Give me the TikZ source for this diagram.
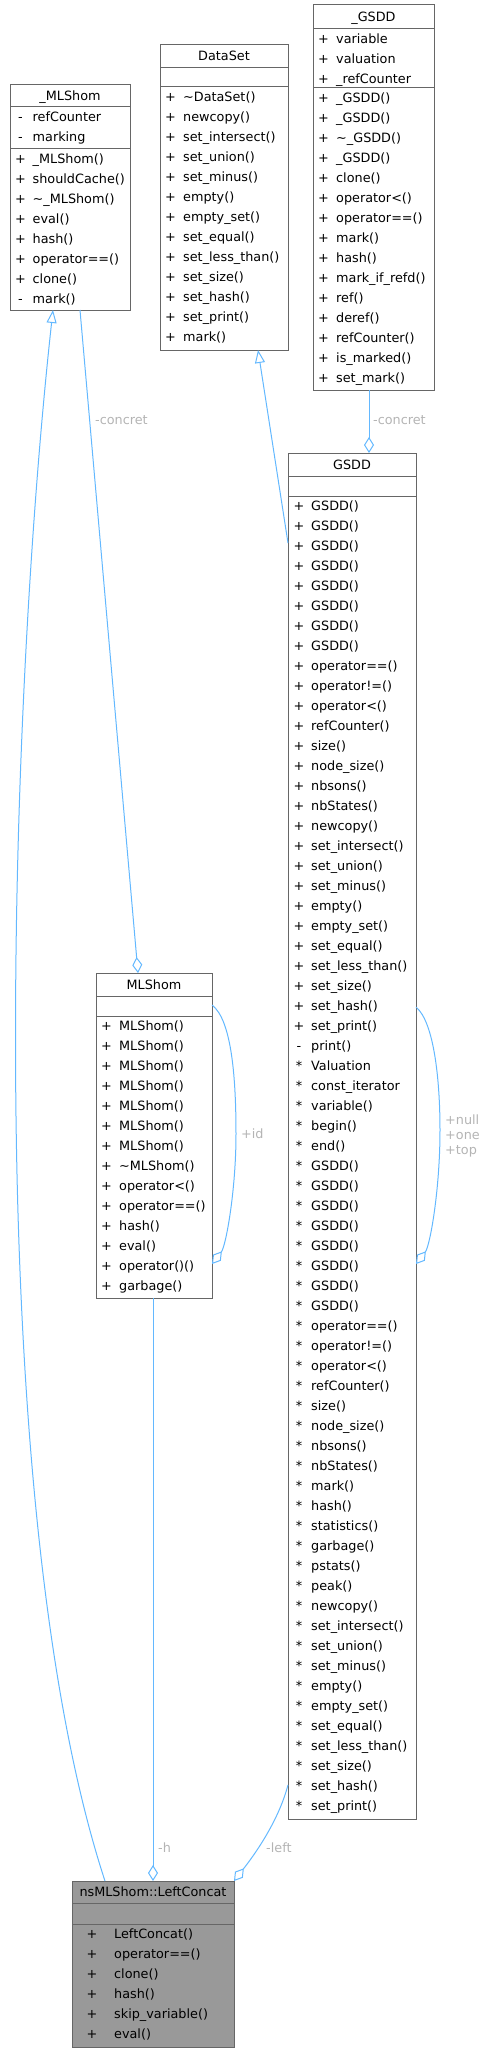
\documentclass[tikz,border=0pt]{standalone}
\usepackage{fontspec}
\setmainfont{DejaVu Sans}
\usetikzlibrary{arrows.meta}
\definecolor{edgec}{HTML}{63B8FF}
\definecolor{bordc}{HTML}{666666}
\definecolor{labc}{HTML}{B4B4B4}
\definecolor{fillc}{HTML}{999999}
\newcommand\dfs{\fontsize{12.8}{15}\selectfont}
\newcommand\classrows[5]{%
  \foreach \mk/\tx [count=\i from 0] in {#5} {
    \node[mk, name=#1m\i] at (#2, {#4+20*\i}) {\mk};
    \node[nm, name=#1t\i] at (#3, {#4+20*\i}) {\tx};
  }}
\begin{document}
\begin{tikzpicture}[x=1pt,y=-1pt,
  cls/.style={draw=bordc, line width=1pt, inner sep=0pt, outer sep=0pt, rectangle, anchor=north west},
  sepl/.style={draw=bordc, line width=1pt},
  mk/.style={anchor=base, inner sep=0pt, font=\dfs},
  nm/.style={anchor=base west, inner sep=0pt, font=\dfs},
  ttl/.style={anchor=base, inner sep=0pt, font=\dfs},
  edge/.style={draw=edgec, line width=1pt},
  lab/.style={text=labc, font=\dfs, inner sep=0pt, anchor=base west},
  agg/.style={edge, -{Diamond[open, length=16pt, width=10pt]}},
  inh/.style={edge, -{Triangle[open, length=13pt, width=10pt]}},
]
\useasboundingbox (0,0) rectangle (486,2052);

% ---------- _MLShom ----------
\node[cls, minimum width=120pt, minimum height=225pt] (mlshomb) at (10,85) {};
\draw[sepl] (10,107) -- (130,107);
\draw[sepl] (10,149) -- (130,149);
\node[ttl] (mlshombT) at (70,100.5) {\_MLShom};
\classrows{mba}{20.5}{32.5}{121.5}{-/refCounter,-/marking}
\classrows{mbm}{20.5}{32.5}{163.5}{+/\_MLShom(),+/shouldCache(),+/\textasciitilde\_MLShom(),+/eval(),+/hash(),+/operator==(),+/clone(),-/mark()}

% ---------- DataSet ----------
\node[cls, minimum width=128pt, minimum height=305pt] (dataset) at (160,45) {};
\draw[sepl] (160,68) -- (288,68);
\draw[sepl] (160,87) -- (288,87);
\node[ttl] (datasetT) at (224,61) {DataSet};
\classrows{dsm}{170.5}{183}{101.5}{+/\textasciitilde DataSet(),+/newcopy(),+/set\_intersect(),+/set\_union(),+/set\_minus(),+/empty(),+/empty\_set(),+/set\_equal(),+/set\_less\_than(),+/set\_size(),+/set\_hash(),+/set\_print(),+/mark()}

% ---------- _GSDD ----------
\node[cls, minimum width=121pt, minimum height=385pt] (gsddb) at (313,5) {};
\draw[sepl] (313,29) -- (434,29);
\draw[sepl] (313,88) -- (434,88);
\node[ttl] (gsddbT) at (373.5,21.5) {\_GSDD};
\classrows{gba}{323.5}{336}{43.5}{+/variable,+/valuation,+/\_refCounter}
\classrows{gbm}{323.5}{336}{102.5}{+/\_GSDD(),+/\_GSDD(),+/\textasciitilde\_GSDD(),+/\_GSDD(),+/clone(),+/operator<(),+/operator==(),+/mark(),+/hash(),+/mark\_if\_refd(),+/ref(),+/deref(),+/refCounter(),+/is\_marked(),+/set\_mark()}

% ---------- GSDD ----------
\node[cls, minimum width=128pt, minimum height=1366pt] (gsdd) at (288,453) {};
\draw[sepl] (288,476) -- (416,476);
\draw[sepl] (288,496) -- (416,496);
\node[ttl] (gsddT) at (352,469) {GSDD};
\classrows{gm}{299}{311}{510.5}{+/GSDD(),+/GSDD(),+/GSDD(),+/GSDD(),+/GSDD(),+/GSDD(),+/GSDD(),+/GSDD(),+/operator==(),+/operator!=(),+/operator<(),+/refCounter(),+/size(),+/node\_size(),+/nbsons(),+/nbStates(),+/newcopy(),+/set\_intersect(),+/set\_union(),+/set\_minus(),+/empty(),+/empty\_set(),+/set\_equal(),+/set\_less\_than(),+/set\_size(),+/set\_hash(),+/set\_print(),-/print(),*/Valuation,*/const\_iterator,*/variable(),*/begin(),*/end(),*/GSDD(),*/GSDD(),*/GSDD(),*/GSDD(),*/GSDD(),*/GSDD(),*/GSDD(),*/GSDD(),*/operator==(),*/operator!=(),*/operator<(),*/refCounter(),*/size(),*/node\_size(),*/nbsons(),*/nbStates(),*/mark(),*/hash(),*/statistics(),*/garbage(),*/pstats(),*/peak(),*/newcopy(),*/set\_intersect(),*/set\_union(),*/set\_minus(),*/empty(),*/empty\_set(),*/set\_equal(),*/set\_less\_than(),*/set\_size(),*/set\_hash(),*/set\_print()}

% ---------- MLShom ----------
\node[cls, minimum width=116pt, minimum height=325pt] (mlshom) at (96,973) {};
\draw[sepl] (96,996) -- (212,996);
\draw[sepl] (96,1016) -- (212,1016);
\node[ttl] (mlshomT) at (154,989) {MLShom};
\classrows{mm}{106.5}{119}{1030.5}{+/MLShom(),+/MLShom(),+/MLShom(),+/MLShom(),+/MLShom(),+/MLShom(),+/MLShom(),+/\textasciitilde MLShom(),+/operator<(),+/operator==(),+/hash(),+/eval(),+/operator()(),+/garbage()}

% ---------- LeftConcat ----------
\node[cls, fill=fillc, minimum width=162pt, minimum height=166pt] (lc) at (72,1881) {};
\draw[sepl] (72,1903) -- (234,1903);
\draw[sepl] (72,1924) -- (234,1924);
\node[ttl] (lcT) at (153,1896.5) {nsMLShom::LeftConcat};
\classrows{lm}{92}{114}{1938.5}{+/LeftConcat(),+/operator==(),+/clone(),+/hash(),+/skip\_variable(),+/eval()}

% ---------- attachment points ----------
\coordinate (pMbInh) at (53,310);
\coordinate (pMbAgg) at (80,310);
\coordinate (pDsInh) at (258,350);
\coordinate (pGbAgg) at (369,390);
\coordinate (pGTop) at (369,453);
\coordinate (pGLeft) at (288,543);
\coordinate (pMTop) at (138,973);
\coordinate (pMR1) at (212,1005);
\coordinate (pMR2) at (212,1264);
\coordinate (pGR1) at (416,1007);
\coordinate (pGR2) at (416,1264);
\coordinate (pMBot) at (153,1298);
\coordinate (pGBot) at (288,1785);
\coordinate (pLInh) at (105,1881);
\coordinate (pLH) at (153,1881);
\coordinate (pLLeft) at (234,1881);

% ---------- connectors ----------
\draw[inh] (pLInh) .. controls (-20,1500) and (10,700) .. (pMbInh);
\draw[agg] (pMbAgg) -- (pMTop);
\node[lab] (lconc1) at (95,424.5) {-concret};
\draw[inh] (pGLeft) -- (pDsInh);
\draw[agg] (pGbAgg) -- (pGTop);
\node[lab] (lconc2) at (373,424.5) {-concret};
\draw[agg] (pMR1) .. controls (232,1020) and (236,1080) .. (236,1134) .. controls (236,1190) and (226,1246) .. (pMR2);
\node[lab] (lid) at (241,1138) {+id};
\draw[agg] (pGR1) .. controls (434,1022) and (440,1080) .. (440,1130) .. controls (440,1190) and (430,1246) .. (pGR2);
\node[lab] (lnull) at (445,1124) {+null};
\node[lab] (lone) at (445,1139) {+one};
\node[lab] (ltop) at (445,1154) {+top};
\draw[agg] (pMBot) -- (pLH);
\node[lab] (lh) at (158,1852) {-h};
\draw[agg] (pGBot) .. controls (280,1815) and (262,1845) .. (pLLeft);
\node[lab] (lleft) at (266,1852) {-left};
\end{tikzpicture}
\end{document}
